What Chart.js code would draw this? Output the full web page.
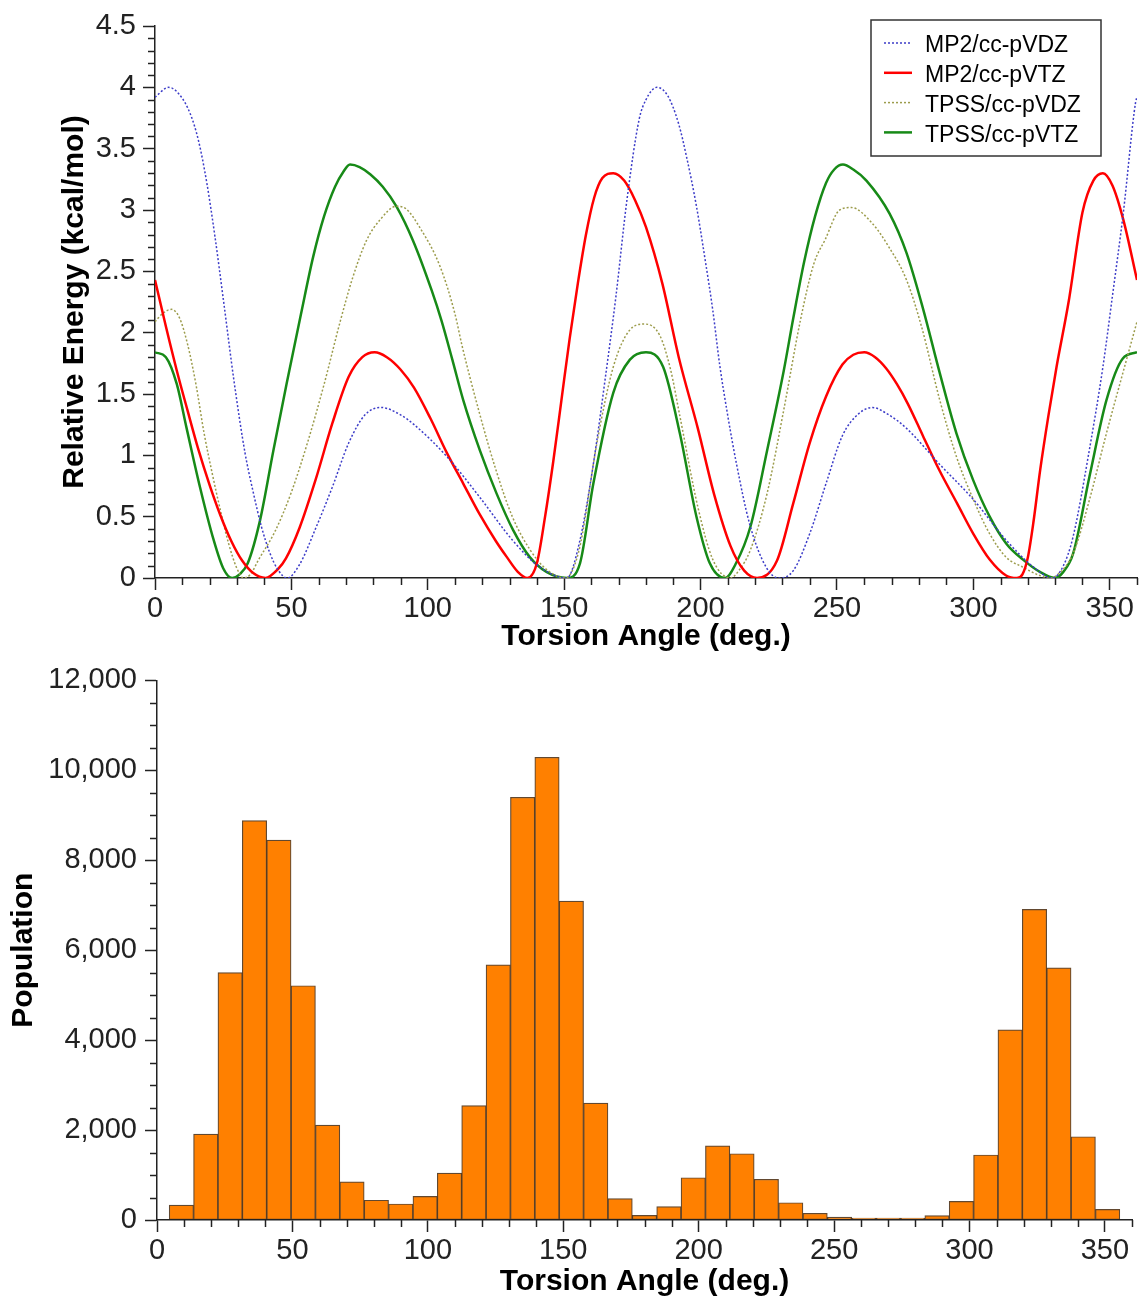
<!DOCTYPE html>
<html>
<head>
<meta charset="utf-8">
<script src="https://cdn.jsdelivr.net/npm/chart.js@4.4.1/dist/chart.umd.min.js"></script>
<style>
  body { margin: 0; background: #fff; }
  #energy-wrap { position: absolute; left: 0; top: 0; width: 1142px; height: 655px; }
  #population-wrap { position: absolute; left: 0; top: 655px; width: 1142px; height: 645px; }
</style>
</head>
<body>
<div id="energy-wrap"><canvas id="energy-chart" width="1142" height="655"></canvas></div>
<div id="population-wrap"><canvas id="population-chart" width="1142" height="645"></canvas></div>
<script>
// Torsion scan: [angle (deg), relative energy (kcal/mol)]
var mp2Dz = [[0,3.92],[5,4.00],[9,3.94],[13,3.78],[16,3.56],[19,3.22],[22,2.78],[25,2.28],[29,1.60],[33,1.02],[36,0.70],[39,0.42],[42,0.21],[45,0.07],[48.5,0],[53,0.11],[59,0.41],[65,0.74],[71,1.10],[77,1.33],[83,1.39],[90,1.33],[95,1.25],[107,0.99],[119,0.66],[131,0.31],[141,0.09],[151,0],[155.5,0.28],[160.5,0.90],[165.5,1.70],[169,2.30],[173,3.08],[177.5,3.74],[180,3.90],[184,4.00],[188,3.93],[192,3.70],[195,3.42],[198.5,3.03],[201.5,2.62],[204.5,2.18],[207,1.74],[210,1.32],[213,0.95],[218,0.44],[224,0.09],[228.7,0],[234,0.06],[240,0.36],[246,0.77],[252,1.16],[258,1.34],[263,1.39],[269,1.33],[275.5,1.22],[287.5,0.93],[300,0.64],[312,0.31],[322,0.09],[329,0],[333,0.10],[336.5,0.33],[342.5,1.04],[347.5,1.72],[351,2.30],[355,2.98],[359.5,3.88],[360,3.92]];
var mp2Tz = [[0,2.43],[4,2.05],[8,1.69],[12,1.36],[16,1.04],[20,0.76],[24,0.51],[28,0.30],[32,0.14],[36,0.04],[40.5,0],[45,0.07],[48,0.16],[53,0.41],[59,0.81],[65,1.26],[71,1.64],[76,1.80],[80.5,1.84],[85,1.80],[90,1.70],[95,1.55],[101,1.30],[107,1.02],[113,0.77],[119,0.52],[125,0.30],[129,0.17],[133,0.05],[136.5,0],[140,0.12],[143,0.50],[146,0.95],[149,1.45],[152,1.95],[155,2.40],[158,2.80],[161,3.10],[164,3.26],[168,3.30],[172,3.24],[176,3.08],[180,2.86],[186,2.40],[192,1.80],[199,1.22],[205,0.68],[211,0.26],[216,0.06],[220.7,0],[228,0.14],[234,0.61],[240,1.10],[246,1.48],[252,1.74],[256,1.82],[260,1.84],[264,1.80],[268,1.71],[272,1.58],[276,1.42],[281.5,1.16],[287.5,0.88],[294,0.61],[300,0.36],[306,0.15],[312,0.02],[316,0],[318,0.03],[320,0.17],[322,0.45],[324.5,0.88],[327.5,1.32],[330.5,1.72],[335,2.26],[340,2.98],[344,3.24],[347.5,3.30],[351,3.20],[355,2.92],[360,2.43]];
var tpssDz = [[0,2.09],[3,2.16],[6,2.19],[9,2.12],[12,1.90],[15,1.58],[18,1.18],[21,0.85],[24,0.55],[27,0.28],[30,0.08],[32.5,0],[35,0.03],[38,0.15],[44,0.38],[50,0.70],[56,1.11],[62,1.58],[68,2.10],[72.5,2.45],[77.5,2.75],[82.5,2.92],[88.5,3.03],[92,3.01],[97,2.86],[104.5,2.54],[110,2.15],[112.5,1.90],[119,1.34],[125,0.88],[131,0.50],[137.5,0.23],[143.5,0.07],[150.5,0],[153,0.06],[156,0.28],[162,1.10],[168,1.72],[174,2.02],[179.5,2.07],[185,1.98],[189,1.70],[192.5,1.31],[199,0.58],[204.5,0.15],[211,0],[214,0.06],[218.3,0.23],[224.4,0.69],[230.5,1.37],[236.6,2.10],[241.5,2.56],[245.7,2.76],[251,3.00],[255.3,3.02],[263,2.89],[269,2.70],[275.5,2.43],[281,2.05],[287.7,1.45],[293.8,0.99],[300,0.64],[306,0.36],[312,0.17],[318,0.09],[324.4,0.02],[328,0],[331,0.03],[336.6,0.20],[342.6,0.64],[348.8,1.18],[354.8,1.67],[360,2.09]];
var tpssTz = [[0,1.84],[4,1.80],[8,1.58],[11.5,1.23],[16.5,0.74],[21.5,0.31],[25,0.08],[28.3,0],[31,0.03],[34,0.12],[38.5,0.47],[43.4,1.04],[48.3,1.59],[53.5,2.15],[58,2.62],[62,2.95],[66,3.19],[69,3.31],[71.5,3.37],[75,3.35],[79,3.29],[83.5,3.19],[88.5,3.03],[94.6,2.75],[101.5,2.34],[105,2.10],[109,1.78],[113,1.45],[119.1,1.04],[125.2,0.69],[131.3,0.39],[137.4,0.17],[143.5,0.05],[151,0],[155.8,0.12],[160.7,0.77],[168,1.51],[174.1,1.78],[180,1.84],[186.3,1.72],[192.4,1.18],[198.5,0.50],[203.4,0.12],[209,0],[213,0.12],[218.3,0.42],[224.4,1.04],[230.5,1.69],[234,2.12],[238,2.58],[242,2.95],[246,3.22],[249,3.33],[252.2,3.37],[256,3.33],[260.8,3.24],[269.3,2.97],[275.5,2.65],[281.5,2.20],[287.7,1.67],[293.8,1.18],[299.9,0.80],[306,0.50],[312.1,0.28],[318.2,0.15],[324.4,0.05],[329.9,0],[333,0.05],[336.6,0.20],[342.6,0.83],[348.8,1.45],[354.8,1.79],[360,1.84]];

// Histogram: bin centres (deg) and counts
var binCentres = [9,18,27,36,45,54,63,72,81,90,99,108,117,126,135,144,153,162,171,180,189,198,207,216,225,234,243,252,261,270,279,288,297,306,315,324,333,342,351];
var population = [330,1910,5500,8880,8450,5210,2110,850,440,356,525,1045,2545,5675,9400,10290,7090,2600,474,102,296,940,1651,1474,905,384,148,66,40,40,40,96,413,1446,4229,6908,5609,1852,236];

var FAMILY = '"Liberation Sans", Arial, sans-serif';
var AXIS = '#222';

function isMultiple(v, m) {
  var q = v / m;
  return Math.abs(q - Math.round(q)) < 1e-6;
}
function toPoints(rows) {
  return rows.map(function(r) { return { x: r[0], y: r[1] }; });
}

// short ticks between the labelled ones
var minorTicks = {
  id: 'minorTicks',
  afterDraw: function(chart, args, opts) {
    var ctx = chart.ctx;
    ctx.save();
    ctx.strokeStyle = AXIS;
    ctx.lineWidth = 1.5;
    ['x', 'y'].forEach(function(id) {
      var scale = chart.scales[id];
      scale.ticks.forEach(function(t) {
        if (isMultiple(t.value, opts[id])) return;
        var p = Math.round(scale.getPixelForValue(t.value)) + 0.5;
        ctx.beginPath();
        if (scale.isHorizontal()) {
          ctx.moveTo(p, scale.top);
          ctx.lineTo(p, scale.top + 7);
        } else {
          ctx.moveTo(scale.right, p);
          ctx.lineTo(scale.right - 7, p);
        }
        ctx.stroke();
      });
    });
    ctx.restore();
  }
};

// framed legend in the upper right corner
var boxLegend = {
  id: 'boxLegend',
  afterDraw: function(chart, args, o) {
    if (!o.display) return;
    var ctx = chart.ctx;
    ctx.save();
    ctx.fillStyle = '#fff';
    ctx.fillRect(o.left, o.top, o.width, o.height);
    ctx.strokeStyle = '#333';
    ctx.lineWidth = 1.5;
    ctx.strokeRect(o.left, o.top, o.width, o.height);
    ctx.font = '23px ' + FAMILY;
    ctx.textBaseline = 'alphabetic';
    chart.data.datasets.forEach(function(ds, i) {
      var y = o.top + o.firstRow + i * o.rowGap;
      ctx.save();
      ctx.strokeStyle = ds.borderColor;
      ctx.lineWidth = ds.borderWidth;
      ctx.setLineDash(ds.borderDash || []);
      ctx.beginPath();
      ctx.moveTo(o.left + 13, y);
      ctx.lineTo(o.left + 41, y);
      ctx.stroke();
      ctx.restore();
      ctx.fillStyle = '#000';
      ctx.fillText(ds.label, o.left + 54, y + 9.3);
    });
    ctx.restore();
  }
};

Chart.register(minorTicks, boxLegend);

function tickFont() { return { family: FAMILY, size: 29 }; }
function titleFont() { return { family: FAMILY, size: 30, weight: 'bold' }; }
function majorColor(step) {
  return function(ctx) { return (ctx.tick && isMultiple(ctx.tick.value, step)) ? AXIS : 'rgba(0,0,0,0)'; };
}

// Top: relative energy vs torsion angle
new Chart(document.getElementById('energy-chart'), {
  type: 'line',
  data: {
    datasets: [
      { label: 'MP2/cc-pVDZ', data: toPoints(mp2Dz), borderColor: '#3c3cc8', borderWidth: 1.5, borderDash: [2, 2] },
      { label: 'MP2/cc-pVTZ', data: toPoints(mp2Tz), borderColor: '#ff0000', borderWidth: 2.5 },
      { label: 'TPSS/cc-pVDZ', data: toPoints(tpssDz), borderColor: '#9c9c4c', borderWidth: 1.5, borderDash: [2, 2] },
      { label: 'TPSS/cc-pVTZ', data: toPoints(tpssTz), borderColor: '#178a17', borderWidth: 2.5 }
    ]
  },
  options: {
    responsive: false,
    animation: false,
    devicePixelRatio: 1,
    layout: { padding: { left: 0, right: 5, top: 26, bottom: 0 } },
    elements: {
      point: { radius: 0 },
      line: { cubicInterpolationMode: 'monotone', fill: false }
    },
    plugins: {
      legend: { display: false },
      tooltip: { enabled: false },
      minorTicks: { x: 50, y: 0.5 },
      boxLegend: { display: true, left: 871, top: 20, width: 230, height: 136, firstRow: 23, rowGap: 29.8 }
    },
    scales: {
      x: {
        type: 'linear', min: 0, max: 360, offset: false,
        afterFit: function(s) { s.height = 77; },
        ticks: {
          stepSize: 10, autoSkip: false, maxRotation: 0, maxTicksLimit: 100, padding: 2,
          color: AXIS, font: tickFont(),
          callback: function(v) { return isMultiple(v, 50) ? String(Math.round(v)) : ''; }
        },
        grid: { drawOnChartArea: false, tickLength: 12, tickWidth: 1.5, tickColor: majorColor(50) },
        border: { color: AXIS, width: 1.5 },
        title: { display: true, text: 'Torsion Angle (deg.)', color: '#000', font: titleFont(), padding: { top: 0, bottom: 0 } }
      },
      y: {
        min: 0, max: 4.5,
        afterFit: function(s) { s.width = 155; },
        ticks: {
          stepSize: 0.1, autoSkip: false, maxTicksLimit: 100, padding: 7,
          color: AXIS, font: tickFont(),
          callback: function(v) { return isMultiple(v, 0.5) ? String(Math.round(v * 10) / 10) : ''; }
        },
        grid: { drawOnChartArea: false, tickLength: 12, tickWidth: 1.5, tickColor: majorColor(0.5) },
        border: { color: AXIS, width: 1.5 },
        title: { display: true, text: 'Relative Energy (kcal/mol)', color: '#000', font: titleFont(), padding: { top: 57, bottom: 0 } }
      }
    }
  }
});

// Bottom: population histogram
new Chart(document.getElementById('population-chart'), {
  type: 'bar',
  data: {
    datasets: [{
      label: 'Population',
      data: binCentres.map(function(c, i) { return { x: c, y: population[i] }; }),
      backgroundColor: '#ff8000',
      borderColor: 'rgba(70,40,10,0.85)',
      borderWidth: 1.2,
      borderSkipped: false,
      barPercentage: 1,
      categoryPercentage: 1
    }]
  },
  options: {
    responsive: false,
    animation: false,
    devicePixelRatio: 1,
    layout: { padding: { left: 0, right: 10, top: 23, bottom: 0 } },
    plugins: {
      legend: { display: false },
      tooltip: { enabled: false },
      minorTicks: { x: 50, y: 2000 },
      boxLegend: { display: false }
    },
    scales: {
      x: {
        type: 'linear', min: 0, max: 360, offset: false,
        afterFit: function(s) { s.height = 80; },
        ticks: {
          stepSize: 10, autoSkip: false, maxRotation: 0, maxTicksLimit: 100, padding: 2,
          color: AXIS, font: tickFont(),
          callback: function(v) { return isMultiple(v, 50) ? String(Math.round(v)) : ''; }
        },
        grid: { offset: false, drawOnChartArea: false, tickLength: 12, tickWidth: 1.5, tickColor: majorColor(50) },
        border: { color: AXIS, width: 1.5, z: 1 },
        title: { display: true, text: 'Torsion Angle (deg.)', color: '#000', font: titleFont(), padding: { top: 0, bottom: 0 } }
      },
      y: {
        min: 0, max: 12000,
        afterFit: function(s) { s.width = 157; },
        ticks: {
          stepSize: 500, autoSkip: false, maxTicksLimit: 100, padding: 8,
          color: AXIS, font: tickFont(),
          callback: function(v) { return isMultiple(v, 2000) ? Math.round(v).toLocaleString('en-US') : ''; }
        },
        grid: { drawOnChartArea: false, tickLength: 12, tickWidth: 1.5, tickColor: majorColor(2000) },
        border: { color: AXIS, width: 1.5 },
        title: { display: true, text: 'Population', color: '#000', font: titleFont(), padding: { top: 6, bottom: 0 } }
      }
    }
  }
});
</script>
</body>
</html>
